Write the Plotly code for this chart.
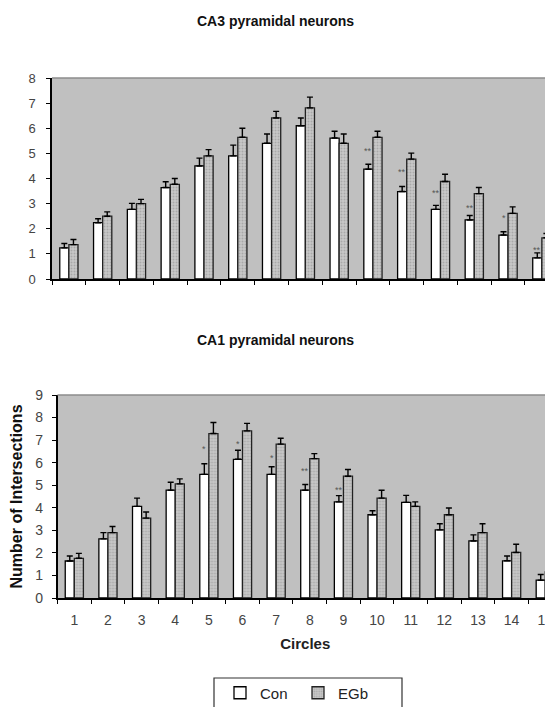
import plotly.graph_objects as go

circles = [str(i) for i in range(1, 16)]

# CA3 pyramidal neurons
ca3_con = [1.24, 2.24, 2.77, 3.64, 4.50, 4.90, 5.40, 6.10, 5.61, 4.37, 3.48, 2.77, 2.35, 1.75, 0.84]
ca3_con_top = [1.41, 2.40, 3.01, 3.87, 4.81, 5.33, 5.77, 6.41, 5.88, 4.57, 3.68, 2.93, 2.53, 1.88, 1.04]
ca3_egb = [1.37, 2.50, 3.00, 3.77, 4.90, 5.64, 6.41, 6.81, 5.40, 5.64, 4.77, 3.88, 3.40, 2.61, 1.64]
ca3_egb_top = [1.57, 2.67, 3.17, 4.00, 5.15, 6.00, 6.67, 7.24, 5.77, 5.88, 5.01, 4.17, 3.64, 2.87, 1.81]
ca3_sig = ["", "", "", "", "", "", "", "", "", "**", "**", "**", "**", "*", "**"]
ca3_sig_y = [0, 0, 0, 0, 0, 0, 0, 0, 0, 5.10, 4.24, 3.44, 2.81, 2.44, 1.17]

# CA1 pyramidal neurons
ca1_con = [1.64, 2.62, 4.06, 4.78, 5.48, 6.15, 5.48, 4.78, 4.26, 3.69, 4.24, 3.02, 2.53, 1.65, 0.79]
ca1_con_top = [1.86, 2.90, 4.43, 5.13, 5.95, 6.55, 5.82, 5.03, 4.54, 3.87, 4.55, 3.29, 2.80, 1.86, 1.04]
ca1_egb = [1.76, 2.90, 3.54, 5.06, 7.29, 7.41, 6.82, 6.18, 5.40, 4.43, 4.06, 3.69, 2.90, 2.02, 1.16]
ca1_egb_top = [1.98, 3.17, 3.81, 5.28, 7.78, 7.74, 7.08, 6.40, 5.70, 4.78, 4.26, 3.99, 3.29, 2.38, 1.50]
ca1_sig = ["", "", "", "", "*", "*", "*", "**", "**", "", "", "", "", "", ""]
ca1_sig_y = [0, 0, 0, 0, 6.59, 6.82, 6.22, 5.63, 4.78, 0, 0, 0, 0, 0, 0]

# page has an 8px body margin: the figure is drawn at (8, 8) inside a 553x707 window
OFF = 8
W, H = 553 - OFF, 707 - OFF
BG = "#c0c0c0"
TICKC = "#444444"
FONT = "Liberation Sans, Arial, sans-serif"


def px_(x):
    return (x - OFF) / W


def py(y):
    return 1 - (y - OFF) / H


fig = go.Figure()

def add_pair(con, con_top, egb, egb_top, xa, ya, show):
    fig.add_trace(go.Bar(
        x=circles, y=con, name="Con", xaxis=xa, yaxis=ya, showlegend=show,
        legendgroup="con",
        marker=dict(color="white", line=dict(color="black", width=1.3)),
        error_y=dict(type="data", symmetric=False,
                     array=[t - v for t, v in zip(con_top, con)],
                     arrayminus=[0] * len(con),
                     color="black", thickness=1.4, width=3),
    ))
    fig.add_trace(go.Bar(
        x=circles, y=egb, name="EGb", xaxis=xa, yaxis=ya, showlegend=show,
        legendgroup="egb",
        marker=dict(color="#c4c4c4", line=dict(color="#222222", width=1.3),
                    pattern=dict(shape=".", fgcolor="#8a8a8a", bgcolor="#c8c8c8",
                                 size=3, solidity=0.35)),
        error_y=dict(type="data", symmetric=False,
                     array=[t - v for t, v in zip(egb_top, egb)],
                     arrayminus=[0] * len(egb),
                     color="black", thickness=1.4, width=3),
    ))

add_pair(ca3_con, ca3_con_top, ca3_egb, ca3_egb_top, "x", "y", True)
add_pair(ca1_con, ca1_con_top, ca1_egb, ca1_egb_top, "x2", "y2", False)

annotations = []
for i, (s, yv) in enumerate(zip(ca3_sig, ca3_sig_y)):
    if s:
        annotations.append(dict(x=i - 0.135, y=yv, xref="x", yref="y", text=s,
                                showarrow=False, font=dict(size=9, color="#555555", family=FONT)))
for i, (s, yv) in enumerate(zip(ca1_sig, ca1_sig_y)):
    if s:
        annotations.append(dict(x=i - 0.135, y=yv, xref="x2", yref="y2", text=s,
                                showarrow=False, font=dict(size=9, color="#555555", family=FONT)))

annotations.append(dict(x=px_(275), y=py(21), xref="paper", yref="paper",
                        xanchor="center", yanchor="middle",
                        text="<b>CA3 pyramidal neurons</b>", showarrow=False,
                        font=dict(size=14, color="#111111", family=FONT)))
annotations.append(dict(x=px_(275), y=py(340), xref="paper", yref="paper",
                        xanchor="center", yanchor="middle",
                        text="<b>CA1 pyramidal neurons</b>", showarrow=False,
                        font=dict(size=14, color="#111111", family=FONT)))

shapes = [
    dict(type="line", xref="x domain", yref="y domain", x0=0, x1=1, y0=1, y1=1,
         line=dict(color="#8c8c8c", width=1.5)),
    dict(type="line", xref="x2 domain", yref="y2 domain", x0=0, x1=1, y0=1, y1=1,
         line=dict(color="#8c8c8c", width=1.5)),
    dict(type="rect", xref="paper", yref="paper", x0=px_(214), x1=px_(402),
         y0=py(720), y1=py(678), line=dict(color="#333333", width=1.2),
         fillcolor="rgba(0,0,0,0)"),
]

xcommon = dict(type="category", tickson="boundaries", ticks="outside", ticklen=4,
               tickcolor="black", showline=True, linecolor="black", linewidth=1.5,
               showgrid=False, zeroline=False, automargin=False)
ycommon = dict(ticks="outside", ticklen=4, tickcolor="black", showline=True,
               linecolor="black", linewidth=1.5, showgrid=False, zeroline=False,
               dtick=1, automargin=False)

fig.update_layout(
    width=W, height=H,
    margin=dict(l=0, r=0, t=0, b=0, autoexpand=False),
    paper_bgcolor="white", plot_bgcolor=BG,
    barmode="group", bargap=0.46, bargroupgap=0,
    font=dict(family=FONT, color="#222222"),
    xaxis=dict(domain=[px_(52), 1], anchor="y", range=[-0.5, 14.33],
               showticklabels=False, **xcommon),
    yaxis=dict(domain=[py(279), py(78)], anchor="x", range=[0, 8],
               ticklabelstandoff=8, tickfont=dict(size=13, color=TICKC, family=FONT),
               **ycommon),
    xaxis2=dict(domain=[px_(57.5), 1], anchor="y2", range=[-0.5, 14.23],
                showticklabels=True, tickfont=dict(size=14, color=TICKC, family=FONT),
                ticklabelstandoff=8,
                title=dict(text="<b>Circles</b>", standoff=12,
                           font=dict(size=15, color="#222222", family=FONT)),
                **xcommon),
    yaxis2=dict(domain=[py(598), py(395)], anchor="x2", range=[0, 9],
                ticklabelstandoff=6, tickfont=dict(size=14, color=TICKC, family=FONT),
                title=dict(text="<b>Number of Intersections</b>", standoff=12,
                           font=dict(size=16, color="#111111", family=FONT)),
                **ycommon),
    legend=dict(orientation="h", x=px_(220), y=py(693), xanchor="left", yanchor="middle",
                bgcolor="rgba(0,0,0,0)", borderwidth=0,
                font=dict(size=15, color="#222222", family=FONT),
                entrywidth=33, itemwidth=30, tracegroupgap=0),
    annotations=annotations,
    shapes=shapes,
)

fig.write_html("out.html")
